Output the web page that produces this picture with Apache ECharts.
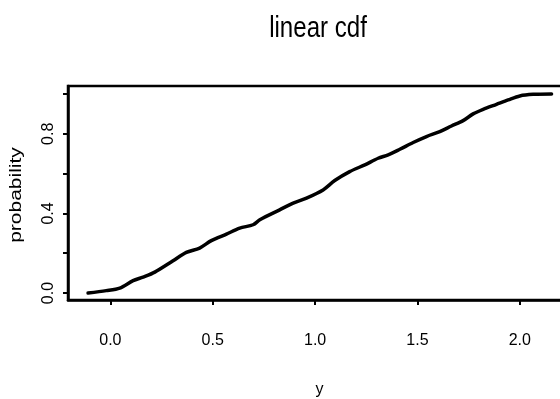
<!DOCTYPE html>
<html>
<head>
<meta charset="utf-8">
<script src="https://cdn.jsdelivr.net/npm/echarts@6/dist/echarts.min.js"></script>
<style>
  html, body { margin: 0; padding: 0; background: #fff; }
  #chart { width: 560px; height: 399px; }
</style>
</head>
<body>
<div id="chart"></div>
<script>
// Empirical CDF of y (sampled along the curve)
const yValues = [-0.109, -0.02, 0.046, 0.111, 0.16, 0.217, 0.306, 0.371, 0.436, 0.493,
  0.567, 0.632, 0.697, 0.73, 0.827, 0.893, 0.958, 1.039, 1.096, 1.169,
  1.243, 1.308, 1.357, 1.414, 1.479, 1.544, 1.609, 1.666, 1.723, 1.772,
  1.821, 1.886, 1.943, 2.0, 2.065, 2.155];
const probability = [0.0, 0.012, 0.025, 0.062, 0.08, 0.105, 0.162, 0.204, 0.226, 0.263,
  0.296, 0.326, 0.343, 0.368, 0.418, 0.452, 0.477, 0.518, 0.565, 0.61,
  0.644, 0.677, 0.694, 0.722, 0.756, 0.786, 0.811, 0.839, 0.866, 0.9,
  0.923, 0.948, 0.97, 0.99, 0.998, 1.0];

const xTicks = [0, 0.5, 1.0, 1.5, 2.0];
const yTicks = [0, 0.2, 0.4, 0.6, 0.8, 1.0];
const yTickLabels = [0, 0.4, 0.8];

const chartTitle = 'linear cdf';
const xTitle = 'y';
const yTitle = 'probability';

const chart = echarts.init(document.getElementById('chart'), null, { renderer: 'canvas' });
const fontFamily = '"Liberation Sans", Arial, sans-serif';
const fmt = v => Number(v).toFixed(1);

chart.setOption({
  backgroundColor: '#ffffff',
  animation: false,
  graphic: [{
    // condensed title, centred over the plot region
    type: 'text',
    x: 318,
    y: 29,
    scaleX: 0.83,
    style: {
      text: chartTitle,
      font: '29px "Liberation Sans", Arial, sans-serif',
      fill: '#000',
      textAlign: 'center',
      textVerticalAlign: 'middle'
    }
  }, {
    // vertical axis title, glyphs slightly condensed
    type: 'text',
    x: 16,
    y: 195,
    rotation: Math.PI / 2,
    scaleY: 0.8,
    style: {
      text: yTitle,
      font: '21px "Liberation Sans", Arial, sans-serif',
      fill: '#000',
      textAlign: 'center',
      textVerticalAlign: 'middle'
    }
  }],
  grid: {
    left: 68, top: 86, right: -11, bottom: 99,
    show: true, borderColor: '#000', borderWidth: 2.5,
    containLabel: false,
    outerBoundsMode: 'none'
  },
  xAxis: {
    type: 'value',
    min: -0.207, max: 2.25,
    name: xTitle,
    nameLocation: 'middle',
    nameGap: 82,
    nameTextStyle: { fontFamily, fontSize: 16, color: '#000' },
    axisLine: { show: true, onZero: false, lineStyle: { color: '#000', width: 2.5 } },
    axisTick: { show: true, customValues: xTicks, length: 5, lineStyle: { color: '#000', width: 2 } },
    axisLabel: { customValues: xTicks, formatter: fmt, fontFamily, fontSize: 16, color: '#000', margin: 33 },
    splitLine: { show: false }
  },
  yAxis: {
    type: 'value',
    min: -0.035, max: 1.04,
    axisLine: { show: true, onZero: false, lineStyle: { color: '#000', width: 2.5 } },
    axisTick: { show: true, customValues: yTicks, length: 5, lineStyle: { color: '#000', width: 2 } },
    axisLabel: { customValues: yTickLabels, formatter: fmt, rotate: 90, fontFamily, fontSize: 16, color: '#000', margin: 11 },
    splitLine: { show: false }
  },
  series: [{
    type: 'line',
    data: yValues.map((x, i) => [x, probability[i]]),
    showSymbol: false,
    smooth: 0.3,
    lineStyle: { color: '#000', width: 3.5, cap: 'round', join: 'round' },
    clip: true
  }]
});
</script>
</body>
</html>
